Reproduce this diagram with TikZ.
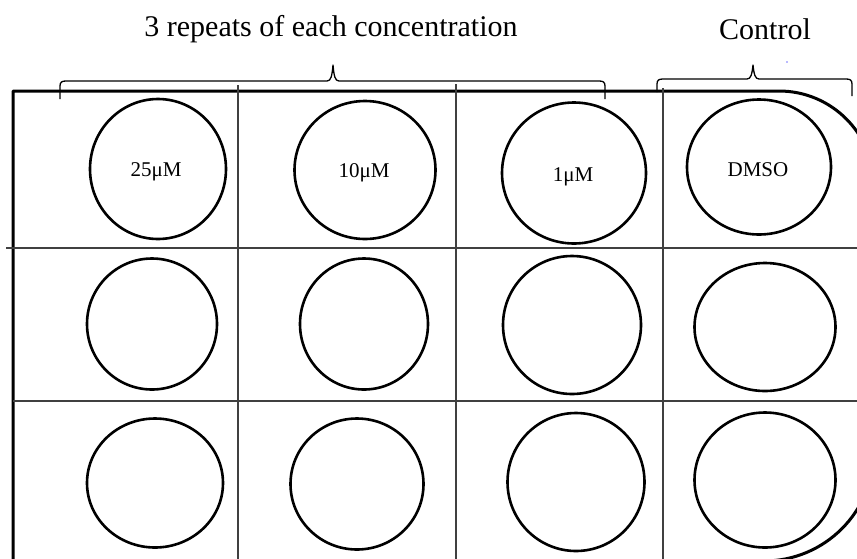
\documentclass[tikz,border=0pt]{standalone}
\usepackage{fontspec}
\setmainfont{Liberation Serif}
\usetikzlibrary{shapes.geometric}

\tikzset{
  plate/.style={line width=3pt, line join=round},
  gridline/.style={line width=1.2pt, draw=black!75},
  bracket/.style={line width=1.3pt, line join=round},
  well/.style={ellipse, draw, line width=2.6pt, inner sep=0pt},
  welltext/.style={anchor=base, inner sep=0pt, font=\fontsize{21}{21}\selectfont},
  heading/.style={anchor=base, inner sep=0pt, font=\fontsize{30}{30}\selectfont}
}

\begin{document}
\begin{tikzpicture}[x=1pt, y=-1pt]
\useasboundingbox (0,0) rectangle (857,558);
\clip (0,0) rectangle (857,558);

% headings
\node[heading] (hrep) at (331,36) {3 repeats of each concentration};
\node[heading] (hctl) at (765,39) {Control};

% braces
\draw[bracket] (60,99) -- (60,86) .. controls (60,82) and (62,81) .. (66,81)
  -- (327,81) .. controls (331,81) and (332,76) .. (333,65)
  .. controls (334,76) and (335,81) .. (339,81)
  -- (599,81) .. controls (603,81) and (605,82) .. (605,86) -- (605,99);
\draw[bracket] (657,92) -- (657,84) .. controls (657,80) and (659,79) .. (663,79)
  -- (747,79) .. controls (751,79) and (752,74) .. (753,65)
  .. controls (754,74) and (755,79) .. (759,79)
  -- (846,79) .. controls (850,79) and (852,80) .. (852,84) -- (852,96);
\fill[blue!55] (787,62) circle (0.9);

% plate outline: square left side, rounded right corners
\draw[plate] (13,561) -- (13,91) -- (779,91)
  .. controls (831.5,91) and (874,133.5) .. (874,186)
  -- (874,451)
  .. controls (874,511.75) and (824.75,561) .. (764,561) -- cycle;

% well grid
\draw[gridline] (238,85) -- (238,560);
\draw[gridline] (456,84) -- (456,560);
\draw[gridline] (663,88) -- (663,560);
\draw[gridline] (6,248) -- (870,248);
\draw[gridline] (13,401) -- (870,401);

% row 1
\node[well, minimum width=136pt, minimum height=140pt] (a1) at (158,169) {};
\node[well, minimum width=141pt, minimum height=138pt] (b1) at (365,170) {};
\node[well, minimum width=144pt, minimum height=141pt] (c1) at (574,173) {};
\node[well, minimum width=144pt, minimum height=135pt] (d1) at (759,167) {};
\node[welltext] (ta1) at (156,176) {25μM};
\node[welltext] (tb1) at (364,177) {10μM};
\node[welltext] (tc1) at (573,181) {1μM};
\node[welltext] (td1) at (758,176) {DMSO};

% row 2
\node[well, minimum width=130pt, minimum height=131pt] (a2) at (152,324) {};
\node[well, minimum width=128pt, minimum height=131pt] (b2) at (364,324) {};
\node[well, minimum width=138pt, minimum height=138pt] (c2) at (572,325) {};
\node[well, minimum width=141pt, minimum height=128pt] (d2) at (765,327) {};

% row 3
\node[well, minimum width=136pt, minimum height=129pt] (a3) at (155,483) {};
\node[well, minimum width=133pt, minimum height=131pt] (b3) at (357,484) {};
\node[well, minimum width=137pt, minimum height=138pt] (c3) at (576,482) {};
\node[well, minimum width=141pt, minimum height=135pt] (d3) at (765,480) {};
\end{tikzpicture}
\end{document}
